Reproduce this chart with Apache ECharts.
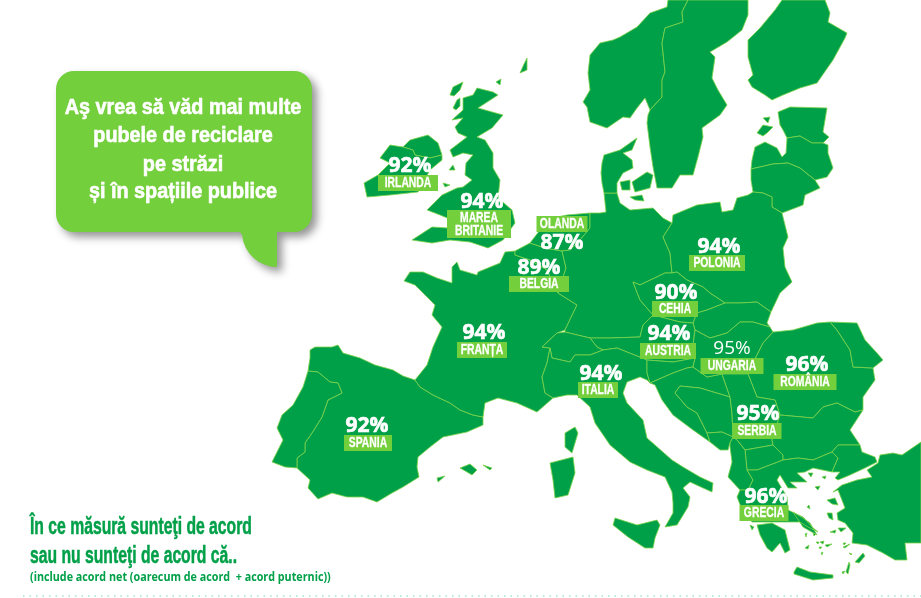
<!DOCTYPE html>
<html><head><meta charset="utf-8">
<style>html,body{margin:0;padding:0;background:#fff}#c{width:921px;height:598px}</style>
<script src="https://cdn.jsdelivr.net/npm/echarts@6/dist/echarts.min.js"></script>
</head><body><div id="c"></div>
<script>
// --- survey data ---
const tagNames = ['IRLANDA','MAREA\nBRITANIE','OLANDA','BELGIA','FRANȚA','SPANIA','POLONIA','CEHIA','AUSTRIA','UNGARIA','ROMÂNIA','ITALIA','SERBIA','GRECIA'];
const percents = [92,94,87,89,94,92,94,90,94,95,96,94,95,96];
const lightFigure = ['UNGARIA'];
// map anchor of each figure / tag, in the base map's own units
const figureAnchors = [[410,166],[482,202],[562,243],[539,268],[484,333],[367,426],[719,247],[676,293],[669,334],[732,349],[807,365],[601,374],[758,414],[766,497]];
const tagAnchors = [[408,183],[479,224],[562,224],[539,284],[482,350],[368,443],[717,263],[675,309],[668,351],[732,366],[805,382],[598,390],[757,431],[764,513]];
const tagWidths = [60,64,51,60,50,48,56,46,56,63,63,40,49,49];
const calloutLines = ['Aş vrea să văd mai multe','pubele de reciclare','pe străzi','și în spațiile publice'];
const footLines = ['În ce măsură sunteţi de acord','sau nu sunteţi de acord că..'];
const footNote = '(include acord net (oarecum de acord  + acord puternic))';

// --- base map outlines (y measured downwards, flipped below) ---
const baseMap = {
 Spain:[[[310,350],[315,347],[332,347],[338,345],[343,353],[360,358],[375,365],[393,370],[403,376],[415,380],[420,387],[433,395],[450,403],[460,410],[473,415],[483,417],[483,425],[467,432],[443,437],[430,447],[418,457],[417,467],[419,477],[403,487],[392,493],[377,502],[363,497],[347,497],[332,493],[318,499],[308,488],[310,480],[297,468],[297,458],[305,452],[305,443],[312,433],[322,417],[328,400],[342,393],[338,383],[330,382],[318,372],[308,371],[310,358]],
  [[460,468],[470,464],[477,470],[472,475],[467,472]],[[483,465],[492,468],[490,470]],[[437,478],[445,476],[438,482]]],
 Portugal:[[[308,371],[318,372],[330,382],[338,383],[342,393],[328,400],[322,417],[312,433],[305,443],[305,452],[297,458],[297,468],[285,467],[272,462],[283,440],[277,428],[282,415],[293,405],[303,387]]],
 France:[[[415,380],[427,365],[433,347],[442,327],[432,315],[435,305],[427,297],[415,285],[404,281],[410,272],[423,272],[437,278],[452,283],[452,267],[457,262],[460,270],[477,275],[478,272],[500,263],[505,252],[515,251],[515,255],[530,260],[547,270],[558,293],[577,305],[565,330],[557,333],[542,347],[550,348],[547,363],[542,377],[545,393],[553,398],[537,412],[517,403],[498,398],[485,403],[483,417],[473,415],[460,410],[450,403],[433,395],[420,387]],
  [[565,433],[575,427],[578,433],[572,453],[565,447]]],
 Belgium:[[[515,251],[530,243],[545,248],[562,251],[566,268],[558,293],[547,270],[530,260],[515,255]]],
 Netherlands:[[[530,243],[540,230],[547,219],[567,215],[590,213],[590,228],[580,240],[570,250],[562,251],[545,248]]],
 Germany:[[[590,213],[600,213],[606,212],[604,193],[617,193],[620,203],[630,210],[653,208],[663,218],[672,223],[663,237],[670,253],[672,273],[665,273],[640,285],[633,282],[640,300],[653,315],[643,325],[640,337],[610,338],[590,338],[565,332],[565,330],[577,305],[558,293],[566,268],[562,251],[570,250],[580,240],[590,228]]],
 Denmark:[[[602,163],[604,155],[620,150],[637,138],[632,150],[623,153],[632,160],[633,168],[623,173],[617,183],[617,193],[604,193],[602,183],[601,173]],
  [[620,182],[630,180],[630,190],[622,190]],[[632,182],[647,172],[653,175],[650,188],[635,192]],[[630,197],[642,195],[644,201],[635,200]]],
 Norway:[[[688,0],[682,12],[683,22],[665,28],[662,43],[665,72],[662,80],[662,97],[650,110],[645,98],[637,108],[630,118],[623,117],[607,128],[590,122],[587,107],[583,102],[590,90],[588,73],[590,55],[600,43],[613,40],[620,37],[637,27],[650,13],[667,7],[668,0]]],
 Sweden:[[[688,0],[748,0],[748,15],[742,30],[727,42],[710,52],[715,57],[712,78],[718,90],[727,105],[720,115],[702,128],[703,137],[698,157],[693,175],[680,175],[672,188],[657,188],[653,167],[650,147],[647,123],[648,115],[650,110],[662,97],[662,80],[665,72],[662,43],[665,28],[683,22],[682,12]]],
 Finland:[[[782,0],[775,10],[760,28],[748,40],[748,57],[753,75],[748,80],[752,87],[765,95],[772,100],[783,95],[800,88],[817,83],[833,60],[845,38],[847,33],[828,22],[830,13],[825,0]]],
 Estonia:[[[778,112],[790,107],[827,108],[823,132],[829,137],[823,143],[812,143],[800,136],[787,138],[783,130],[780,125]],
  [[757,133],[763,125],[773,127],[767,133],[763,136]],[[763,118],[770,117],[768,123]]],
 Latvia:[[[787,138],[800,136],[812,143],[823,143],[828,145],[828,153],[833,168],[827,177],[815,180],[800,168],[788,163],[773,164],[751,169],[752,160],[755,147],[765,142],[777,148],[782,157],[786,153]]],
 Lithuania:[[[751,169],[773,164],[788,163],[800,168],[815,180],[820,188],[805,195],[803,205],[790,210],[782,213],[772,207],[772,197],[763,193],[753,192],[751,180]]],
 Poland:[[[672,223],[673,215],[697,205],[720,202],[722,212],[733,210],[737,198],[748,195],[753,192],[763,193],[772,197],[772,207],[782,213],[788,237],[783,248],[785,267],[792,282],[780,293],[771,312],[757,302],[740,303],[725,303],[710,293],[703,287],[687,280],[677,272],[672,273],[670,253],[663,237]]],
 Czechia:[[[633,282],[640,285],[665,273],[672,273],[677,272],[687,280],[703,287],[710,293],[725,303],[707,310],[697,313],[693,323],[680,322],[653,315],[640,300]]],
 Slovakia:[[[725,303],[740,303],[757,302],[771,312],[767,323],[770,327],[753,322],[740,322],[727,333],[710,338],[695,330],[693,323],[697,313],[707,310]]],
 Austria:[[[643,325],[653,315],[680,322],[693,323],[695,330],[693,345],[695,358],[673,362],[647,360],[617,348],[603,350],[597,347],[590,338],[610,338],[640,337]]],
 Switzerland:[[[557,333],[565,332],[590,338],[597,347],[603,350],[590,355],[575,355],[570,362],[552,358],[550,348],[542,347]]],
 Italy:[[[550,348],[552,358],[570,362],[575,355],[590,355],[603,350],[617,348],[647,360],[647,373],[650,383],[647,380],[640,377],[627,382],[623,393],[627,403],[643,420],[647,438],[672,460],[683,467],[700,477],[713,483],[712,492],[703,488],[690,482],[683,488],[690,497],[688,507],[677,525],[665,527],[673,513],[673,503],[672,492],[665,477],[647,470],[630,462],[610,445],[595,423],[590,407],[577,395],[567,395],[553,398],[545,393],[542,377],[547,363]],
  [[613,525],[615,518],[637,525],[657,520],[660,525],[655,538],[653,548],[645,548],[628,537]],
  [[550,463],[573,457],[575,473],[568,495],[555,498],[553,480]]],
 Slovenia:[[[647,360],[673,362],[695,358],[693,367],[687,368],[673,373],[650,383],[647,373]]],
 Croatia:[[[650,383],[673,373],[687,368],[693,367],[707,377],[722,374],[730,397],[700,388],[680,386],[675,393],[687,407],[697,413],[707,433],[710,442],[693,430],[673,415],[662,400],[655,385]]],
 Bosnia:[[[675,393],[680,386],[700,388],[730,397],[732,413],[733,437],[722,432],[707,433],[697,413],[687,407]]],
 Montenegro:[[[707,433],[722,432],[733,437],[730,443],[728,450],[720,450],[710,442]]],
 Hungary:[[[695,330],[710,338],[727,333],[740,322],[753,322],[770,327],[773,332],[763,343],[753,363],[748,374],[722,374],[707,377],[693,367],[695,358],[693,345]]],
 Romania:[[[773,332],[793,330],[817,323],[830,322],[837,330],[850,350],[853,367],[873,368],[875,380],[863,397],[863,410],[855,412],[837,403],[823,407],[813,418],[780,415],[775,400],[757,397],[748,374],[753,363],[763,343]]],
 Moldova:[[[830,322],[857,323],[865,340],[877,353],[883,360],[873,368],[853,367],[850,350],[837,330]]],
 Serbia:[[[722,374],[748,374],[757,397],[775,400],[780,415],[772,440],[773,445],[745,450],[737,440],[733,437],[732,413],[730,397]]],
 Macedonia:[[[745,450],[773,445],[783,455],[783,460],[757,470],[747,470]]],
 Albania:[[[730,443],[733,437],[737,440],[745,450],[747,470],[753,480],[748,490],[740,490],[728,477],[732,462],[730,447]]],
 Bulgaria:[[[780,415],[813,418],[823,407],[837,403],[855,412],[863,410],[850,430],[860,445],[838,445],[832,452],[813,460],[798,458],[783,460],[783,455],[773,445],[772,440]]],
 Greece:[[[747,470],[757,470],[783,460],[798,458],[813,460],[832,452],[838,458],[832,472],[813,468],[805,472],[797,473],[807,482],[797,482],[790,482],[797,488],[788,488],[780,475],[777,480],[787,497],[788,510],[803,517],[812,527],[818,532],[808,527],[800,522],[780,522],[752,522],[743,512],[737,497],[740,490],[748,490],[753,480]],
  [[757,525],[772,523],[785,530],[790,550],[785,553],[780,543],[772,552],[767,548],[760,535]],
  [[794,572],[797,567],[810,572],[833,575],[833,578],[813,580],[794,574]],
  [[793,512],[803,518],[810,523],[817,535],[803,527]],
  [[827,500],[835,498],[838,505],[832,504]],[[827,513],[832,513],[833,520],[829,518]],[[838,528],[846,528],[841,532]],[[830,532],[836,530],[835,533]],
  [[808,473],[813,473],[811,477]],[[822,477],[826,476],[825,479]],[[815,487],[820,486],[818,490]],
  [[855,562],[863,553],[865,556],[859,563]],[[846,572],[849,562],[850,565],[848,574]],[[842,572],[845,571],[843,574]],[[807,507],[809,505],[810,509]],
  [[805,534],[807,533],[806,537]],[[813,533],[816,534],[814,536]],[[820,542],[824,541],[823,544]],[[816,542],[819,542],[818,544]],[[825,545],[832,544],[827,547]],[[805,548],[809,545],[808,549]],[[819,547],[822,547],[820,549]],[[821,553],[823,552],[822,555]],[[843,543],[846,543],[844,545]],[[843,547],[850,544],[845,548]],[[849,553],[852,554],[851,555]],[[750,525],[754,527],[752,530]]],
 Turkey:[[[905,543],[907,560],[895,560],[883,553],[867,545],[852,543],[853,533],[845,523],[838,520],[837,513],[845,508],[838,490],[833,492],[842,485],[857,480],[872,477],[867,470],[878,463],[880,455],[893,453],[902,455],[921,442],[921,543]],
  [[832,452],[838,445],[860,445],[862,452],[875,457],[877,462],[865,468],[850,475],[838,480],[835,478],[840,472],[832,472],[838,458]]],
 UK:[[[477,88],[493,92],[498,95],[478,108],[503,115],[492,128],[477,137],[485,140],[493,153],[493,168],[500,180],[498,198],[512,210],[515,223],[503,240],[488,248],[470,242],[450,240],[432,243],[412,240],[432,227],[448,228],[452,220],[440,215],[427,210],[442,195],[457,188],[463,187],[472,180],[465,175],[466,163],[473,155],[463,153],[453,157],[450,150],[467,137],[458,133],[455,127],[463,118],[452,120],[463,110],[463,98],[473,95]],
  [[450,95],[453,87],[463,82],[460,90],[454,96]],[[453,108],[457,100],[460,98],[460,106],[456,110]],[[520,73],[524,64],[527,58],[527,70]],[[496,82],[501,79],[500,85]],[[449,170],[453,165],[455,170]],[[443,183],[450,185],[445,187]],
  [[410,140],[428,135],[438,143],[442,155],[430,158],[415,155],[413,150],[403,147]]],
 Ireland:[[[403,147],[413,150],[415,155],[430,158],[442,155],[442,160],[430,170],[418,192],[390,195],[367,197],[364,183],[378,175],[390,163],[380,158],[390,145]]]
};

const H = 598;
const flip = p => [p[0], H - p[1]];
const geoJson = {type:'FeatureCollection',features:Object.keys(baseMap).map(n=>({
  type:'Feature',properties:{name:n},
  geometry:{type:'MultiPolygon',coordinates:baseMap[n].map(r=>[r.map(flip)])}
}))};
echarts.registerMap('europe',geoJson);

// speech bubble outline: rounded corners and a curved tail
function arc(cx,cy,r,a0,a1){const o=[];for(let i=0;i<=8;i++){const a=(a0+(a1-a0)*i/8)*Math.PI/180;o.push([cx+r*Math.cos(a),cy+r*Math.sin(a)]);}return o;}
const bubble=[...arc(74,89,18,180,270),...arc(294,89,18,270,360),...arc(294,214,18,0,90),[277,232],[277,267],...arc(277,232,35,90,175).slice(1),[240,232],...arc(74,214,18,90,180)];

const green='#00a049', lime='#74cf3c';
const sans='"Liberation Sans",Arial,sans-serif';
const chart=echarts.init(document.getElementById('c'),null,{renderer:'canvas'});
const graphics=[
 {type:'polygon',z:20,shape:{points:bubble},
  style:{fill:lime,shadowBlur:9,shadowColor:'rgba(0,0,0,0.42)',shadowOffsetX:5,shadowOffsetY:5}},
 ...calloutLines.map((t,i)=>({type:'text',z:21,x:183,y:[108,136,165,192][i],scaleX:0.9,style:{text:t,fill:'#fff',stroke:'#fff',lineWidth:0.6,font:'bold 22px '+sans,align:'center',verticalAlign:'middle'}})),
 ...footLines.map((t,i)=>({type:'text',z:21,x:30,y:[527,556][i],scaleX:0.655,style:{text:t,fill:green,stroke:green,lineWidth:0.5,font:'bold 24px '+sans,align:'left',verticalAlign:'middle'}})),
 {type:'text',z:21,x:30,y:577,scaleX:0.827,style:{text:footNote,fill:green,font:'bold 13px "Open Sans",sans-serif',align:'left',verticalAlign:'middle'}},
 {type:'line',z:21,shape:{x1:23,y1:596,x2:921,y2:596},style:{stroke:'#a5e3cd',lineWidth:1.5,lineDash:[1.5,5]}}
];
chart.setOption({
 animation:false,
 backgroundColor:'#fff',
 geo:{map:'europe',roam:false,silent:true,aspectScale:1,left:0,top:0,width:921,height:598,
  boundingCoords:[[0,H],[921,0]],
  label:{show:false},
  itemStyle:{areaColor:green,borderColor:'#7ed34a',borderWidth:0.8}},
 series:[
  {type:'custom',coordinateSystem:'geo',z:6,silent:true,
   data:tagNames.map((n,i)=>({name:n,value:flip(tagAnchors[i]).concat(i)})),
   renderItem(params,api){
    const i=api.value(2), c=api.coord([api.value(0),api.value(1)]);
    const name=tagNames[i], w=tagWidths[i], h=name.includes('\n')?28:16;
    return {type:'group',children:[
     {type:'rect',shape:{x:c[0]-w/2,y:c[1]-h/2,width:w,height:h},style:{fill:lime}},
     {type:'text',x:c[0],y:c[1]+0.5,scaleX:0.74,style:{text:name,fill:'#fff',stroke:'#fff',lineWidth:0.3,font:'bold 14px '+sans,lineHeight:13,align:'center',verticalAlign:'middle'}}
    ]};
   }},
  {type:'custom',coordinateSystem:'geo',z:7,silent:true,
   data:percents.map((v,i)=>({name:tagNames[i],value:flip(figureAnchors[i]).concat(v,i)})),
   renderItem(params,api){
    const c=api.coord([api.value(0),api.value(1)]), light=lightFigure.includes(tagNames[api.value(3)]);
    return {type:'text',x:c[0],y:c[1],style:{text:api.value(2)+'%',fill:'#fff',stroke:'#fff',lineWidth:light?0:0.6,
      font:(light?'normal 19px':'bold 21px')+' "Open Sans",sans-serif',align:'center',verticalAlign:'middle'}};
   }}
 ],
 graphic:graphics
});
</script></body></html>
